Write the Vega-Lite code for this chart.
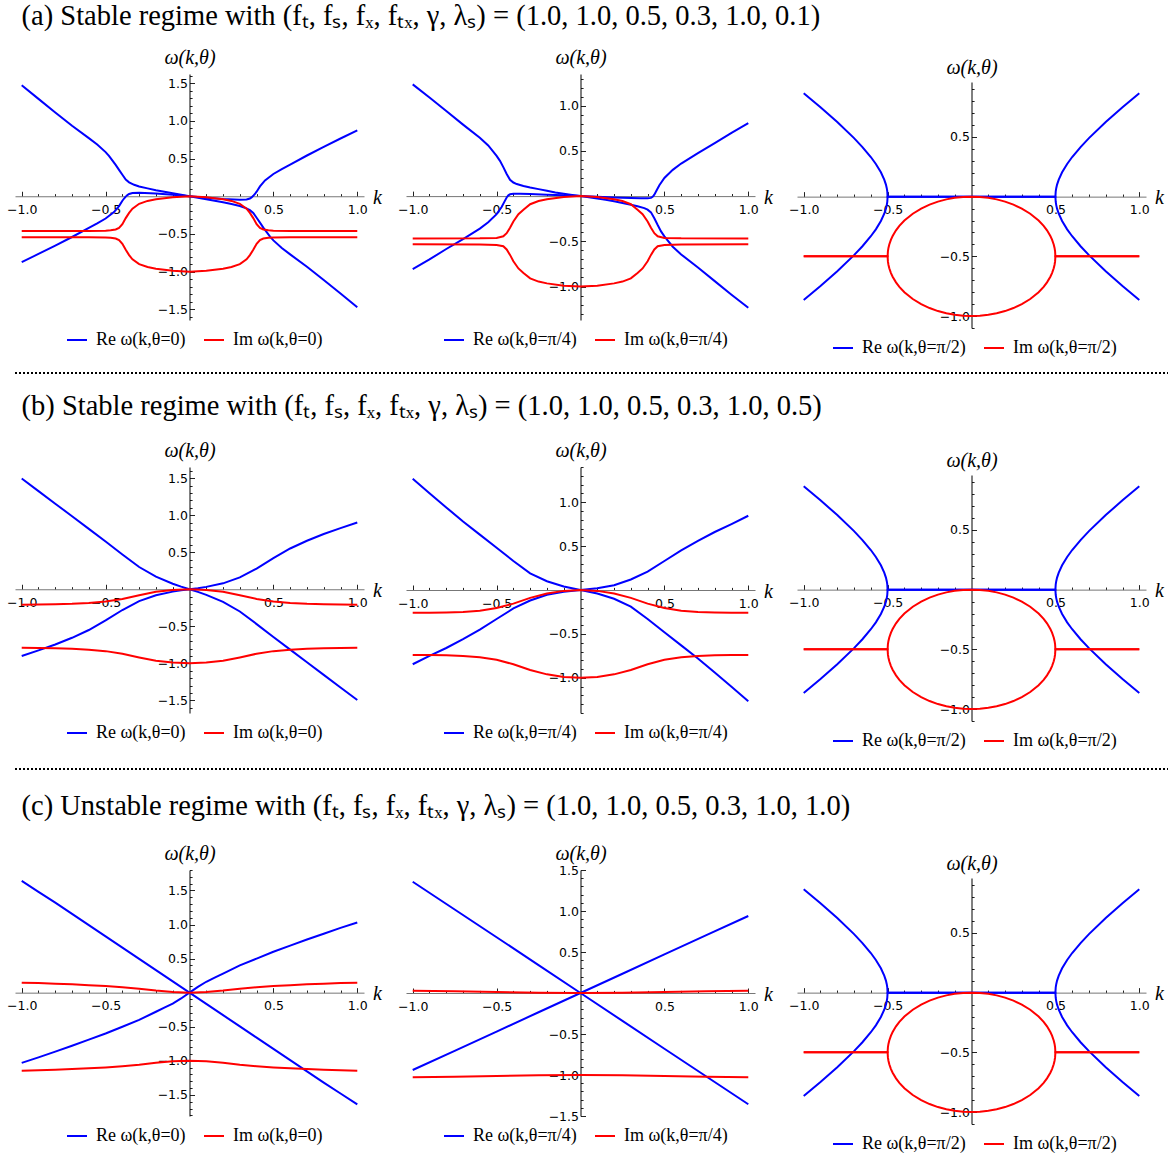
{
"$schema":"https://vega.github.io/schema/vega-lite/v6.json",
"background":"white",
"padding":{"left":6,"top":1,"right":0,"bottom":0},
"config":{
 "view":{"stroke":null},
 "axis":{"grid":false,"labelFont":"DejaVu Sans","labelFontSize":12.5,"labelColor":"#000","tickColor":"#222","tickWidth":1,"tickSize":-5,"domainWidth":1,"labelFlush":false,"labelOverlap":false,"titleFont":"Liberation Serif","titleFontStyle":"italic","titleFontWeight":"normal","titleFontSize":20,"titleColor":"#000","titleAngle":0,"titleAlign":"center","titleBaseline":"alphabetic"},
 "axisX":{"domainColor":"#777","labelPadding":12},
 "axisY":{"domainColor":"#000","labelPadding":7},
 "legend":{"direction":"horizontal","symbolType":"stroke","symbolSize":400,"symbolStrokeWidth":2,"labelFont":"Liberation Serif","labelFontSize":18,"labelOffset":8,"columnPadding":14,"labelLimit":0,"labelColor":"#000"},
 "title":{"font":"Liberation Serif","fontSize":28.5,"fontWeight":"normal","anchor":"start","color":"#000"},
 "line":{"strokeWidth":2}
},
"spacing":14,
"resolve":{"scale":{"color":"independent"},"legend":{"color":"independent"}},
"vconcat":[
 {"title":{"text":"(a) Stable regime with  (fₜ, fₛ, fₓ, fₜₓ, γ, λₛ) = (1.0, 1.0, 0.5, 0.3, 1.0, 0.1)","dx":15,"offset":17},
  "spacing":15,
  "resolve":{"scale":{"color":"independent"},"legend":{"color":"independent"}},
  "hconcat":[
   {"resolve":{"scale":{"color":"independent"},"legend":{"color":"independent"}},"vconcat":[
   {"width":349,"height":246,"data":{"name":"a1"},"mark":{"type":"line"},
    "encoding":{
     "x":{"field":"k","type":"quantitative","scale":{"domain":[-1.04,1.04],"nice":false,"zero":false},
      "axis":{"offset":-123.75,"values":[-1,-0.9,-0.8,-0.7,-0.6,-0.5,-0.4,-0.3,-0.2,-0.1,0.1,0.2,0.3,0.4,0.5,0.6,0.7,0.8,0.9,1],"labelExpr":"abs(datum.value*2-round(datum.value*2))<0.01 && abs(datum.value)>0.01 ? format(datum.value,'.1f') : ''","tickDash":{"condition":{"test":"abs(datum.value*2-round(datum.value*2))<0.01","value":[6,0]},"value":[2.6,10]},"title":"k","titleX":362,"titleY":7}},
     "y":{"field":"w","type":"quantitative","scale":{"domain":[-1.64,1.62],"nice":false,"zero":false},
      "axis":{"offset":-174.5,"values":[-1.6,-1.5,-1.4,-1.3,-1.2,-1.1,-1,-0.9,-0.8,-0.7,-0.6,-0.5,-0.4,-0.3,-0.2,-0.1,0.1,0.2,0.3,0.4,0.5,0.6,0.7,0.8,0.9,1,1.1,1.2,1.3,1.4,1.5,1.6],"labelExpr":"abs(datum.value*2-round(datum.value*2))<0.01 && abs(datum.value)>0.01 ? format(datum.value,'.1f') : ''","tickDash":{"condition":{"test":"abs(datum.value*2-round(datum.value*2))<0.01","value":[6,0]},"value":[2.6,10]},"title":"ω(k,θ)","titleX":0,"titleY":-11}},
     "color":{"field":"s","type":"nominal","scale":{"domain":["Re","Im"],"range":["#0000ff","#ff0000"]},
      "legend":{"orient":"none","legendX":51,"legendY":255,"title":null,"labelExpr":"datum.label + ' ω(k,θ=0)'"}},
     "detail":{"field":"b","type":"nominal"}}}]},
   {"resolve":{"scale":{"color":"independent"},"legend":{"color":"independent"}},"vconcat":[
   {"width":349,"height":246,"data":{"name":"a2"},"mark":{"type":"line"},
    "encoding":{
     "x":{"field":"k","type":"quantitative","scale":{"domain":[-1.04,1.04],"nice":false,"zero":false},
      "axis":{"offset":-123.9,"values":[-1,-0.9,-0.8,-0.7,-0.6,-0.5,-0.4,-0.3,-0.2,-0.1,0.1,0.2,0.3,0.4,0.5,0.6,0.7,0.8,0.9,1],"labelExpr":"abs(datum.value*2-round(datum.value*2))<0.01 && abs(datum.value)>0.01 ? format(datum.value,'.1f') : ''","tickDash":{"condition":{"test":"abs(datum.value*2-round(datum.value*2))<0.01","value":[6,0]},"value":[2.6,10]},"title":"k","titleX":362,"titleY":7}},
     "y":{"field":"w","type":"quantitative","scale":{"domain":[-1.37,1.35],"nice":false,"zero":false},
      "axis":{"offset":-174.5,"values":[-1.3,-1.2,-1.1,-1,-0.9,-0.8,-0.7,-0.6,-0.5,-0.4,-0.3,-0.2,-0.1,0.1,0.2,0.3,0.4,0.5,0.6,0.7,0.8,0.9,1,1.1,1.2,1.3],"labelExpr":"abs(datum.value*2-round(datum.value*2))<0.01 && abs(datum.value)>0.01 ? format(datum.value,'.1f') : ''","tickDash":{"condition":{"test":"abs(datum.value*2-round(datum.value*2))<0.01","value":[6,0]},"value":[2.6,10]},"title":"ω(k,θ)","titleX":0,"titleY":-11}},
     "color":{"field":"s","type":"nominal","scale":{"domain":["Re","Im"],"range":["#0000ff","#ff0000"]},
      "legend":{"orient":"none","legendX":37,"legendY":255,"title":null,"labelExpr":"datum.label + ' ω(k,θ=π/4)'"}},
     "detail":{"field":"b","type":"nominal"}}}]},
   {"resolve":{"scale":{"color":"independent"},"legend":{"color":"independent"}},"spacing":-18,"vconcat":[
   {"width":349,"height":1,"data":{"values":[]},"mark":{"type":"rule"},"encoding":{}},
   {"width":349,"height":246,"data":{"name":"p3"},"mark":{"type":"line"},
    "encoding":{
     "x":{"field":"k","type":"quantitative","scale":{"domain":[-1.04,1.04],"nice":false,"zero":false},
      "axis":{"offset":-131.36,"values":[-1,-0.9,-0.8,-0.7,-0.6,-0.5,-0.4,-0.3,-0.2,-0.1,0.1,0.2,0.3,0.4,0.5,0.6,0.7,0.8,0.9,1],"labelExpr":"abs(datum.value*2-round(datum.value*2))<0.01 && abs(datum.value)>0.01 ? format(datum.value,'.1f') : ''","tickDash":{"condition":{"test":"abs(datum.value*2-round(datum.value*2))<0.01","value":[6,0]},"value":[2.6,10]},"title":"k","titleX":362,"titleY":7}},
     "y":{"field":"w","type":"quantitative","scale":{"domain":[-1.1,0.96],"nice":false,"zero":false},
      "axis":{"offset":-174.5,"values":[-1.1,-1,-0.9,-0.8,-0.7,-0.6,-0.5,-0.4,-0.3,-0.2,-0.1,0.1,0.2,0.3,0.4,0.5,0.6,0.7,0.8,0.9],"labelExpr":"abs(datum.value*2-round(datum.value*2))<0.01 && abs(datum.value)>0.01 ? format(datum.value,'.1f') : ''","tickDash":{"condition":{"test":"abs(datum.value*2-round(datum.value*2))<0.01","value":[6,0]},"value":[2.6,10]},"title":"ω(k,θ)","titleX":0,"titleY":-9}},
     "color":{"field":"s","type":"nominal","scale":{"domain":["Re","Im"],"range":["#0000ff","#ff0000"]},
      "legend":{"orient":"none","legendX":35,"legendY":255,"title":null,"labelExpr":"datum.label + ' ω(k,θ=π/2)'"}},
     "detail":{"field":"b","type":"nominal"}}}]}
  ]},
 {"width":1162,"height":6,"data":{"values":[{"y":0.667}]},"mark":{"type":"rule","color":"#000","strokeWidth":2,"strokeDash":[2,2]},
  "encoding":{"y":{"field":"y","type":"quantitative","axis":null,"scale":{"domain":[0,1],"nice":false,"zero":false}}}},
 {"title":{"text":"(b) Stable regime with  (fₜ, fₛ, fₓ, fₜₓ, γ, λₛ) = (1.0, 1.0, 0.5, 0.3, 1.0, 0.5)","dx":15,"offset":20},
  "spacing":15,
  "resolve":{"scale":{"color":"independent"},"legend":{"color":"independent"}},
  "hconcat":[
   {"resolve":{"scale":{"color":"independent"},"legend":{"color":"independent"}},"vconcat":[
   {"width":349,"height":246,"data":{"name":"b1"},"mark":{"type":"line"},
    "encoding":{
     "x":{"field":"k","type":"quantitative","scale":{"domain":[-1.04,1.04],"nice":false,"zero":false},
      "axis":{"offset":-123.74,"values":[-1,-0.9,-0.8,-0.7,-0.6,-0.5,-0.4,-0.3,-0.2,-0.1,0.1,0.2,0.3,0.4,0.5,0.6,0.7,0.8,0.9,1],"labelExpr":"abs(datum.value*2-round(datum.value*2))<0.01 && abs(datum.value)>0.01 ? format(datum.value,'.1f') : ''","tickDash":{"condition":{"test":"abs(datum.value*2-round(datum.value*2))<0.01","value":[6,0]},"value":[2.6,10]},"title":"k","titleX":362,"titleY":7}},
     "y":{"field":"w","type":"quantitative","scale":{"domain":[-1.67,1.65],"nice":false,"zero":false},
      "axis":{"offset":-174.5,"values":[-1.6,-1.5,-1.4,-1.3,-1.2,-1.1,-1,-0.9,-0.8,-0.7,-0.6,-0.5,-0.4,-0.3,-0.2,-0.1,0.1,0.2,0.3,0.4,0.5,0.6,0.7,0.8,0.9,1,1.1,1.2,1.3,1.4,1.5,1.6],"labelExpr":"abs(datum.value*2-round(datum.value*2))<0.01 && abs(datum.value)>0.01 ? format(datum.value,'.1f') : ''","tickDash":{"condition":{"test":"abs(datum.value*2-round(datum.value*2))<0.01","value":[6,0]},"value":[2.6,10]},"title":"ω(k,θ)","titleX":0,"titleY":-11}},
     "color":{"field":"s","type":"nominal","scale":{"domain":["Re","Im"],"range":["#0000ff","#ff0000"]},
      "legend":{"orient":"none","legendX":51,"legendY":255,"title":null,"labelExpr":"datum.label + ' ω(k,θ=0)'"}},
     "detail":{"field":"b","type":"nominal"}}}]},
   {"resolve":{"scale":{"color":"independent"},"legend":{"color":"independent"}},"vconcat":[
   {"width":349,"height":246,"data":{"name":"b2"},"mark":{"type":"line"},
    "encoding":{
     "x":{"field":"k","type":"quantitative","scale":{"domain":[-1.04,1.04],"nice":false,"zero":false},
      "axis":{"offset":-123,"values":[-1,-0.9,-0.8,-0.7,-0.6,-0.5,-0.4,-0.3,-0.2,-0.1,0.1,0.2,0.3,0.4,0.5,0.6,0.7,0.8,0.9,1],"labelExpr":"abs(datum.value*2-round(datum.value*2))<0.01 && abs(datum.value)>0.01 ? format(datum.value,'.1f') : ''","tickDash":{"condition":{"test":"abs(datum.value*2-round(datum.value*2))<0.01","value":[6,0]},"value":[2.6,10]},"title":"k","titleX":362,"titleY":7}},
     "y":{"field":"w","type":"quantitative","scale":{"domain":[-1.4,1.4],"nice":false,"zero":false},
      "axis":{"offset":-174.5,"values":[-1.4,-1.3,-1.2,-1.1,-1,-0.9,-0.8,-0.7,-0.6,-0.5,-0.4,-0.3,-0.2,-0.1,0.1,0.2,0.3,0.4,0.5,0.6,0.7,0.8,0.9,1,1.1,1.2,1.3,1.4],"labelExpr":"abs(datum.value*2-round(datum.value*2))<0.01 && abs(datum.value)>0.01 ? format(datum.value,'.1f') : ''","tickDash":{"condition":{"test":"abs(datum.value*2-round(datum.value*2))<0.01","value":[6,0]},"value":[2.6,10]},"title":"ω(k,θ)","titleX":0,"titleY":-11}},
     "color":{"field":"s","type":"nominal","scale":{"domain":["Re","Im"],"range":["#0000ff","#ff0000"]},
      "legend":{"orient":"none","legendX":37,"legendY":255,"title":null,"labelExpr":"datum.label + ' ω(k,θ=π/4)'"}},
     "detail":{"field":"b","type":"nominal"}}}]},
   {"resolve":{"scale":{"color":"independent"},"legend":{"color":"independent"}},"spacing":-18,"vconcat":[
   {"width":349,"height":1,"data":{"values":[]},"mark":{"type":"rule"},"encoding":{}},
   {"width":349,"height":246,"data":{"name":"p3"},"mark":{"type":"line"},
    "encoding":{
     "x":{"field":"k","type":"quantitative","scale":{"domain":[-1.04,1.04],"nice":false,"zero":false},
      "axis":{"offset":-131.36,"values":[-1,-0.9,-0.8,-0.7,-0.6,-0.5,-0.4,-0.3,-0.2,-0.1,0.1,0.2,0.3,0.4,0.5,0.6,0.7,0.8,0.9,1],"labelExpr":"abs(datum.value*2-round(datum.value*2))<0.01 && abs(datum.value)>0.01 ? format(datum.value,'.1f') : ''","tickDash":{"condition":{"test":"abs(datum.value*2-round(datum.value*2))<0.01","value":[6,0]},"value":[2.6,10]},"title":"k","titleX":362,"titleY":7}},
     "y":{"field":"w","type":"quantitative","scale":{"domain":[-1.1,0.96],"nice":false,"zero":false},
      "axis":{"offset":-174.5,"values":[-1.1,-1,-0.9,-0.8,-0.7,-0.6,-0.5,-0.4,-0.3,-0.2,-0.1,0.1,0.2,0.3,0.4,0.5,0.6,0.7,0.8,0.9],"labelExpr":"abs(datum.value*2-round(datum.value*2))<0.01 && abs(datum.value)>0.01 ? format(datum.value,'.1f') : ''","tickDash":{"condition":{"test":"abs(datum.value*2-round(datum.value*2))<0.01","value":[6,0]},"value":[2.6,10]},"title":"ω(k,θ)","titleX":0,"titleY":-9}},
     "color":{"field":"s","type":"nominal","scale":{"domain":["Re","Im"],"range":["#0000ff","#ff0000"]},
      "legend":{"orient":"none","legendX":35,"legendY":255,"title":null,"labelExpr":"datum.label + ' ω(k,θ=π/2)'"}},
     "detail":{"field":"b","type":"nominal"}}}]}
  ]},
 {"width":1162,"height":13,"data":{"values":[{"y":0.615}]},"mark":{"type":"rule","color":"#000","strokeWidth":2,"strokeDash":[2,2]},
  "encoding":{"y":{"field":"y","type":"quantitative","axis":null,"scale":{"domain":[0,1],"nice":false,"zero":false}}}},
 {"title":{"text":"(c) Unstable regime with  (fₜ, fₛ, fₓ, fₜₓ, γ, λₛ) = (1.0, 1.0, 0.5, 0.3, 1.0, 1.0)","dx":15,"offset":23},
  "spacing":15,
  "resolve":{"scale":{"color":"independent"},"legend":{"color":"independent"}},
  "hconcat":[
   {"resolve":{"scale":{"color":"independent"},"legend":{"color":"independent"}},"vconcat":[
   {"width":349,"height":246,"data":{"name":"c1"},"mark":{"type":"line"},
    "encoding":{
     "x":{"field":"k","type":"quantitative","scale":{"domain":[-1.04,1.04],"nice":false,"zero":false},
      "axis":{"offset":-123.34,"values":[-1,-0.9,-0.8,-0.7,-0.6,-0.5,-0.4,-0.3,-0.2,-0.1,0.1,0.2,0.3,0.4,0.5,0.6,0.7,0.8,0.9,1],"labelExpr":"abs(datum.value*2-round(datum.value*2))<0.01 && abs(datum.value)>0.01 ? format(datum.value,'.1f') : ''","tickDash":{"condition":{"test":"abs(datum.value*2-round(datum.value*2))<0.01","value":[6,0]},"value":[2.6,10]},"title":"k","titleX":362,"titleY":7}},
     "y":{"field":"w","type":"quantitative","scale":{"domain":[-1.81,1.8],"nice":false,"zero":false},
      "axis":{"offset":-174.5,"values":[-1.8,-1.7,-1.6,-1.5,-1.4,-1.3,-1.2,-1.1,-1,-0.9,-0.8,-0.7,-0.6,-0.5,-0.4,-0.3,-0.2,-0.1,0.1,0.2,0.3,0.4,0.5,0.6,0.7,0.8,0.9,1,1.1,1.2,1.3,1.4,1.5,1.6,1.7,1.8],"labelExpr":"abs(datum.value*2-round(datum.value*2))<0.01 && abs(datum.value)>0.01 ? format(datum.value,'.1f') : ''","tickDash":{"condition":{"test":"abs(datum.value*2-round(datum.value*2))<0.01","value":[6,0]},"value":[2.6,10]},"title":"ω(k,θ)","titleX":0,"titleY":-11}},
     "color":{"field":"s","type":"nominal","scale":{"domain":["Re","Im"],"range":["#0000ff","#ff0000"]},
      "legend":{"orient":"none","legendX":51,"legendY":255,"title":null,"labelExpr":"datum.label + ' ω(k,θ=0)'"}},
     "detail":{"field":"b","type":"nominal"}}}]},
   {"resolve":{"scale":{"color":"independent"},"legend":{"color":"independent"}},"vconcat":[
   {"width":349,"height":246,"data":{"name":"c2"},"mark":{"type":"line"},
    "encoding":{
     "x":{"field":"k","type":"quantitative","scale":{"domain":[-1.04,1.04],"nice":false,"zero":false},
      "axis":{"offset":-123,"values":[-1,-0.9,-0.8,-0.7,-0.6,-0.5,-0.4,-0.3,-0.2,-0.1,0.1,0.2,0.3,0.4,0.5,0.6,0.7,0.8,0.9,1],"labelExpr":"abs(datum.value*2-round(datum.value*2))<0.01 && abs(datum.value)>0.01 ? format(datum.value,'.1f') : ''","tickDash":{"condition":{"test":"abs(datum.value*2-round(datum.value*2))<0.01","value":[6,0]},"value":[2.6,10]},"title":"k","titleX":362,"titleY":7}},
     "y":{"field":"w","type":"quantitative","scale":{"domain":[-1.5,1.5],"nice":false,"zero":false},
      "axis":{"offset":-174.5,"values":[-1.5,-1.4,-1.3,-1.2,-1.1,-1,-0.9,-0.8,-0.7,-0.6,-0.5,-0.4,-0.3,-0.2,-0.1,0.1,0.2,0.3,0.4,0.5,0.6,0.7,0.8,0.9,1,1.1,1.2,1.3,1.4,1.5],"labelExpr":"abs(datum.value*2-round(datum.value*2))<0.01 && abs(datum.value)>0.01 ? format(datum.value,'.1f') : ''","tickDash":{"condition":{"test":"abs(datum.value*2-round(datum.value*2))<0.01","value":[6,0]},"value":[2.6,10]},"title":"ω(k,θ)","titleX":0,"titleY":-11}},
     "color":{"field":"s","type":"nominal","scale":{"domain":["Re","Im"],"range":["#0000ff","#ff0000"]},
      "legend":{"orient":"none","legendX":37,"legendY":255,"title":null,"labelExpr":"datum.label + ' ω(k,θ=π/4)'"}},
     "detail":{"field":"b","type":"nominal"}}}]},
   {"resolve":{"scale":{"color":"independent"},"legend":{"color":"independent"}},"spacing":-18,"vconcat":[
   {"width":349,"height":1,"data":{"values":[]},"mark":{"type":"rule"},"encoding":{}},
   {"width":349,"height":246,"data":{"name":"p3"},"mark":{"type":"line"},
    "encoding":{
     "x":{"field":"k","type":"quantitative","scale":{"domain":[-1.04,1.04],"nice":false,"zero":false},
      "axis":{"offset":-131.36,"values":[-1,-0.9,-0.8,-0.7,-0.6,-0.5,-0.4,-0.3,-0.2,-0.1,0.1,0.2,0.3,0.4,0.5,0.6,0.7,0.8,0.9,1],"labelExpr":"abs(datum.value*2-round(datum.value*2))<0.01 && abs(datum.value)>0.01 ? format(datum.value,'.1f') : ''","tickDash":{"condition":{"test":"abs(datum.value*2-round(datum.value*2))<0.01","value":[6,0]},"value":[2.6,10]},"title":"k","titleX":362,"titleY":7}},
     "y":{"field":"w","type":"quantitative","scale":{"domain":[-1.1,0.96],"nice":false,"zero":false},
      "axis":{"offset":-174.5,"values":[-1.1,-1,-0.9,-0.8,-0.7,-0.6,-0.5,-0.4,-0.3,-0.2,-0.1,0.1,0.2,0.3,0.4,0.5,0.6,0.7,0.8,0.9],"labelExpr":"abs(datum.value*2-round(datum.value*2))<0.01 && abs(datum.value)>0.01 ? format(datum.value,'.1f') : ''","tickDash":{"condition":{"test":"abs(datum.value*2-round(datum.value*2))<0.01","value":[6,0]},"value":[2.6,10]},"title":"ω(k,θ)","titleX":0,"titleY":-9}},
     "color":{"field":"s","type":"nominal","scale":{"domain":["Re","Im"],"range":["#0000ff","#ff0000"]},
      "legend":{"orient":"none","legendX":35,"legendY":255,"title":null,"labelExpr":"datum.label + ' ω(k,θ=π/2)'"}},
     "detail":{"field":"b","type":"nominal"}}}]}
  ]}
],
"datasets":{
 "a1":[
  {"k":-1,"w":1.47,"s":"Re","b":1},{"k":-0.9,"w":1.29,"s":"Re","b":1},{"k":-0.8,"w":1.11,"s":"Re","b":1},{"k":-0.7,"w":0.935,"s":"Re","b":1},{"k":-0.6,"w":0.77,"s":"Re","b":1},{"k":-0.55,"w":0.685,"s":"Re","b":1},{"k":-0.5,"w":0.585,"s":"Re","b":1},{"k":-0.48,"w":0.535,"s":"Re","b":1},{"k":-0.46,"w":0.475,"s":"Re","b":1},{"k":-0.44,"w":0.415,"s":"Re","b":1},{"k":-0.42,"w":0.35,"s":"Re","b":1},{"k":-0.4,"w":0.285,"s":"Re","b":1},{"k":-0.38,"w":0.22,"s":"Re","b":1},{"k":-0.36,"w":0.185,"s":"Re","b":1},{"k":-0.33,"w":0.152,"s":"Re","b":1},{"k":-0.3,"w":0.13,"s":"Re","b":1},{"k":-0.25,"w":0.104,"s":"Re","b":1},{"k":-0.2,"w":0.08,"s":"Re","b":1},{"k":-0.15,"w":0.059,"s":"Re","b":1},{"k":-0.1,"w":0.04,"s":"Re","b":1},{"k":-0.05,"w":0.02,"s":"Re","b":1},{"k":0,"w":0,"s":"Re","b":1},{"k":0.05,"w":-0.02,"s":"Re","b":1},{"k":0.1,"w":-0.04,"s":"Re","b":1},{"k":0.15,"w":-0.059,"s":"Re","b":1},{"k":0.2,"w":-0.08,"s":"Re","b":1},{"k":0.25,"w":-0.104,"s":"Re","b":1},{"k":0.3,"w":-0.13,"s":"Re","b":1},{"k":0.33,"w":-0.152,"s":"Re","b":1},{"k":0.36,"w":-0.185,"s":"Re","b":1},{"k":0.38,"w":-0.22,"s":"Re","b":1},{"k":0.4,"w":-0.285,"s":"Re","b":1},{"k":0.42,"w":-0.35,"s":"Re","b":1},{"k":0.44,"w":-0.415,"s":"Re","b":1},{"k":0.46,"w":-0.475,"s":"Re","b":1},{"k":0.48,"w":-0.535,"s":"Re","b":1},{"k":0.5,"w":-0.585,"s":"Re","b":1},{"k":0.55,"w":-0.685,"s":"Re","b":1},{"k":0.6,"w":-0.77,"s":"Re","b":1},{"k":0.7,"w":-0.935,"s":"Re","b":1},{"k":0.8,"w":-1.11,"s":"Re","b":1},{"k":0.9,"w":-1.29,"s":"Re","b":1},{"k":1,"w":-1.47,"s":"Re","b":1},
  {"k":-1,"w":-0.874,"s":"Re","b":2},{"k":-0.9,"w":-0.765,"s":"Re","b":2},{"k":-0.8,"w":-0.655,"s":"Re","b":2},{"k":-0.7,"w":-0.54,"s":"Re","b":2},{"k":-0.6,"w":-0.42,"s":"Re","b":2},{"k":-0.55,"w":-0.36,"s":"Re","b":2},{"k":-0.5,"w":-0.295,"s":"Re","b":2},{"k":-0.45,"w":-0.21,"s":"Re","b":2},{"k":-0.42,"w":-0.13,"s":"Re","b":2},{"k":-0.4,"w":-0.06,"s":"Re","b":2},{"k":-0.39,"w":-0.03,"s":"Re","b":2},{"k":-0.38,"w":-0.005,"s":"Re","b":2},{"k":-0.37,"w":0.015,"s":"Re","b":2},{"k":-0.36,"w":0.03,"s":"Re","b":2},{"k":-0.34,"w":0.043,"s":"Re","b":2},{"k":-0.3,"w":0.045,"s":"Re","b":2},{"k":-0.2,"w":0.035,"s":"Re","b":2},{"k":-0.1,"w":0.02,"s":"Re","b":2},{"k":0,"w":0,"s":"Re","b":2},{"k":0.1,"w":-0.02,"s":"Re","b":2},{"k":0.2,"w":-0.035,"s":"Re","b":2},{"k":0.3,"w":-0.045,"s":"Re","b":2},{"k":0.34,"w":-0.043,"s":"Re","b":2},{"k":0.36,"w":-0.03,"s":"Re","b":2},{"k":0.37,"w":-0.015,"s":"Re","b":2},{"k":0.38,"w":0.005,"s":"Re","b":2},{"k":0.39,"w":0.03,"s":"Re","b":2},{"k":0.4,"w":0.06,"s":"Re","b":2},{"k":0.42,"w":0.13,"s":"Re","b":2},{"k":0.45,"w":0.21,"s":"Re","b":2},{"k":0.5,"w":0.295,"s":"Re","b":2},{"k":0.55,"w":0.36,"s":"Re","b":2},{"k":0.6,"w":0.42,"s":"Re","b":2},{"k":0.7,"w":0.54,"s":"Re","b":2},{"k":0.8,"w":0.655,"s":"Re","b":2},{"k":0.9,"w":0.765,"s":"Re","b":2},{"k":1,"w":0.874,"s":"Re","b":2},
  {"k":-1,"w":-0.462,"s":"Im","b":3},{"k":-0.8,"w":-0.461,"s":"Im","b":3},{"k":-0.6,"w":-0.46,"s":"Im","b":3},{"k":-0.5,"w":-0.456,"s":"Im","b":3},{"k":-0.47,"w":-0.452,"s":"Im","b":3},{"k":-0.44,"w":-0.44,"s":"Im","b":3},{"k":-0.42,"w":-0.42,"s":"Im","b":3},{"k":-0.4,"w":-0.37,"s":"Im","b":3},{"k":-0.38,"w":-0.29,"s":"Im","b":3},{"k":-0.36,"w":-0.22,"s":"Im","b":3},{"k":-0.34,"w":-0.165,"s":"Im","b":3},{"k":-0.3,"w":-0.1,"s":"Im","b":3},{"k":-0.25,"w":-0.062,"s":"Im","b":3},{"k":-0.2,"w":-0.04,"s":"Im","b":3},{"k":-0.1,"w":-0.012,"s":"Im","b":3},{"k":0,"w":0,"s":"Im","b":3},{"k":0.1,"w":-0.012,"s":"Im","b":3},{"k":0.2,"w":-0.04,"s":"Im","b":3},{"k":0.25,"w":-0.062,"s":"Im","b":3},{"k":0.3,"w":-0.1,"s":"Im","b":3},{"k":0.34,"w":-0.165,"s":"Im","b":3},{"k":0.36,"w":-0.22,"s":"Im","b":3},{"k":0.38,"w":-0.29,"s":"Im","b":3},{"k":0.4,"w":-0.37,"s":"Im","b":3},{"k":0.42,"w":-0.42,"s":"Im","b":3},{"k":0.44,"w":-0.44,"s":"Im","b":3},{"k":0.47,"w":-0.452,"s":"Im","b":3},{"k":0.5,"w":-0.456,"s":"Im","b":3},{"k":0.6,"w":-0.46,"s":"Im","b":3},{"k":0.8,"w":-0.461,"s":"Im","b":3},{"k":1,"w":-0.462,"s":"Im","b":3},
  {"k":-1,"w":-0.545,"s":"Im","b":4},{"k":-0.6,"w":-0.545,"s":"Im","b":4},{"k":-0.5,"w":-0.546,"s":"Im","b":4},{"k":-0.47,"w":-0.55,"s":"Im","b":4},{"k":-0.44,"w":-0.56,"s":"Im","b":4},{"k":-0.42,"w":-0.58,"s":"Im","b":4},{"k":-0.4,"w":-0.63,"s":"Im","b":4},{"k":-0.38,"w":-0.71,"s":"Im","b":4},{"k":-0.36,"w":-0.78,"s":"Im","b":4},{"k":-0.34,"w":-0.835,"s":"Im","b":4},{"k":-0.3,"w":-0.9,"s":"Im","b":4},{"k":-0.25,"w":-0.938,"s":"Im","b":4},{"k":-0.2,"w":-0.96,"s":"Im","b":4},{"k":-0.1,"w":-0.988,"s":"Im","b":4},{"k":0,"w":-1,"s":"Im","b":4},{"k":0.1,"w":-0.988,"s":"Im","b":4},{"k":0.2,"w":-0.96,"s":"Im","b":4},{"k":0.25,"w":-0.938,"s":"Im","b":4},{"k":0.3,"w":-0.9,"s":"Im","b":4},{"k":0.34,"w":-0.835,"s":"Im","b":4},{"k":0.36,"w":-0.78,"s":"Im","b":4},{"k":0.38,"w":-0.71,"s":"Im","b":4},{"k":0.4,"w":-0.63,"s":"Im","b":4},{"k":0.42,"w":-0.58,"s":"Im","b":4},{"k":0.44,"w":-0.56,"s":"Im","b":4},{"k":0.47,"w":-0.55,"s":"Im","b":4},{"k":0.5,"w":-0.546,"s":"Im","b":4},{"k":0.6,"w":-0.545,"s":"Im","b":4},{"k":1,"w":-0.545,"s":"Im","b":4}
 ],
 "a2":[
  {"k":-1,"w":1.235,"s":"Re","b":1},{"k":-0.9,"w":1.09,"s":"Re","b":1},{"k":-0.8,"w":0.94,"s":"Re","b":1},{"k":-0.7,"w":0.79,"s":"Re","b":1},{"k":-0.6,"w":0.645,"s":"Re","b":1},{"k":-0.55,"w":0.56,"s":"Re","b":1},{"k":-0.5,"w":0.445,"s":"Re","b":1},{"k":-0.48,"w":0.39,"s":"Re","b":1},{"k":-0.46,"w":0.32,"s":"Re","b":1},{"k":-0.44,"w":0.245,"s":"Re","b":1},{"k":-0.42,"w":0.18,"s":"Re","b":1},{"k":-0.4,"w":0.15,"s":"Re","b":1},{"k":-0.38,"w":0.133,"s":"Re","b":1},{"k":-0.34,"w":0.112,"s":"Re","b":1},{"k":-0.3,"w":0.095,"s":"Re","b":1},{"k":-0.25,"w":0.077,"s":"Re","b":1},{"k":-0.2,"w":0.058,"s":"Re","b":1},{"k":-0.15,"w":0.04,"s":"Re","b":1},{"k":-0.1,"w":0.027,"s":"Re","b":1},{"k":-0.05,"w":0.013,"s":"Re","b":1},{"k":0,"w":0,"s":"Re","b":1},{"k":0.05,"w":-0.013,"s":"Re","b":1},{"k":0.1,"w":-0.027,"s":"Re","b":1},{"k":0.15,"w":-0.04,"s":"Re","b":1},{"k":0.2,"w":-0.058,"s":"Re","b":1},{"k":0.25,"w":-0.077,"s":"Re","b":1},{"k":0.3,"w":-0.095,"s":"Re","b":1},{"k":0.34,"w":-0.112,"s":"Re","b":1},{"k":0.38,"w":-0.133,"s":"Re","b":1},{"k":0.4,"w":-0.15,"s":"Re","b":1},{"k":0.42,"w":-0.18,"s":"Re","b":1},{"k":0.44,"w":-0.245,"s":"Re","b":1},{"k":0.46,"w":-0.32,"s":"Re","b":1},{"k":0.48,"w":-0.39,"s":"Re","b":1},{"k":0.5,"w":-0.445,"s":"Re","b":1},{"k":0.55,"w":-0.56,"s":"Re","b":1},{"k":0.6,"w":-0.645,"s":"Re","b":1},{"k":0.7,"w":-0.79,"s":"Re","b":1},{"k":0.8,"w":-0.94,"s":"Re","b":1},{"k":0.9,"w":-1.09,"s":"Re","b":1},{"k":1,"w":-1.235,"s":"Re","b":1},
  {"k":-1,"w":-0.807,"s":"Re","b":2},{"k":-0.9,"w":-0.7,"s":"Re","b":2},{"k":-0.8,"w":-0.585,"s":"Re","b":2},{"k":-0.7,"w":-0.475,"s":"Re","b":2},{"k":-0.6,"w":-0.36,"s":"Re","b":2},{"k":-0.55,"w":-0.29,"s":"Re","b":2},{"k":-0.5,"w":-0.2,"s":"Re","b":2},{"k":-0.47,"w":-0.12,"s":"Re","b":2},{"k":-0.45,"w":-0.05,"s":"Re","b":2},{"k":-0.44,"w":-0.015,"s":"Re","b":2},{"k":-0.43,"w":0.008,"s":"Re","b":2},{"k":-0.42,"w":0.02,"s":"Re","b":2},{"k":-0.4,"w":0.025,"s":"Re","b":2},{"k":-0.36,"w":0.025,"s":"Re","b":2},{"k":-0.3,"w":0.022,"s":"Re","b":2},{"k":-0.2,"w":0.015,"s":"Re","b":2},{"k":-0.1,"w":0.008,"s":"Re","b":2},{"k":0,"w":0,"s":"Re","b":2},{"k":0.1,"w":-0.008,"s":"Re","b":2},{"k":0.2,"w":-0.015,"s":"Re","b":2},{"k":0.3,"w":-0.022,"s":"Re","b":2},{"k":0.36,"w":-0.025,"s":"Re","b":2},{"k":0.4,"w":-0.025,"s":"Re","b":2},{"k":0.42,"w":-0.02,"s":"Re","b":2},{"k":0.43,"w":-0.008,"s":"Re","b":2},{"k":0.44,"w":0.015,"s":"Re","b":2},{"k":0.45,"w":0.05,"s":"Re","b":2},{"k":0.47,"w":0.12,"s":"Re","b":2},{"k":0.5,"w":0.2,"s":"Re","b":2},{"k":0.55,"w":0.29,"s":"Re","b":2},{"k":0.6,"w":0.36,"s":"Re","b":2},{"k":0.7,"w":0.475,"s":"Re","b":2},{"k":0.8,"w":0.585,"s":"Re","b":2},{"k":0.9,"w":0.7,"s":"Re","b":2},{"k":1,"w":0.807,"s":"Re","b":2},
  {"k":-1,"w":-0.468,"s":"Im","b":3},{"k":-0.6,"w":-0.467,"s":"Im","b":3},{"k":-0.5,"w":-0.462,"s":"Im","b":3},{"k":-0.46,"w":-0.445,"s":"Im","b":3},{"k":-0.44,"w":-0.41,"s":"Im","b":3},{"k":-0.42,"w":-0.35,"s":"Im","b":3},{"k":-0.4,"w":-0.28,"s":"Im","b":3},{"k":-0.37,"w":-0.2,"s":"Im","b":3},{"k":-0.34,"w":-0.15,"s":"Im","b":3},{"k":-0.3,"w":-0.09,"s":"Im","b":3},{"k":-0.25,"w":-0.055,"s":"Im","b":3},{"k":-0.2,"w":-0.035,"s":"Im","b":3},{"k":-0.1,"w":-0.01,"s":"Im","b":3},{"k":0,"w":0,"s":"Im","b":3},{"k":0.1,"w":-0.01,"s":"Im","b":3},{"k":0.2,"w":-0.035,"s":"Im","b":3},{"k":0.25,"w":-0.055,"s":"Im","b":3},{"k":0.3,"w":-0.09,"s":"Im","b":3},{"k":0.34,"w":-0.15,"s":"Im","b":3},{"k":0.37,"w":-0.2,"s":"Im","b":3},{"k":0.4,"w":-0.28,"s":"Im","b":3},{"k":0.42,"w":-0.35,"s":"Im","b":3},{"k":0.44,"w":-0.41,"s":"Im","b":3},{"k":0.46,"w":-0.445,"s":"Im","b":3},{"k":0.5,"w":-0.462,"s":"Im","b":3},{"k":0.6,"w":-0.467,"s":"Im","b":3},{"k":1,"w":-0.468,"s":"Im","b":3},
  {"k":-1,"w":-0.533,"s":"Im","b":4},{"k":-0.6,"w":-0.535,"s":"Im","b":4},{"k":-0.5,"w":-0.54,"s":"Im","b":4},{"k":-0.46,"w":-0.555,"s":"Im","b":4},{"k":-0.44,"w":-0.59,"s":"Im","b":4},{"k":-0.42,"w":-0.65,"s":"Im","b":4},{"k":-0.4,"w":-0.72,"s":"Im","b":4},{"k":-0.37,"w":-0.8,"s":"Im","b":4},{"k":-0.34,"w":-0.85,"s":"Im","b":4},{"k":-0.3,"w":-0.91,"s":"Im","b":4},{"k":-0.25,"w":-0.945,"s":"Im","b":4},{"k":-0.2,"w":-0.965,"s":"Im","b":4},{"k":-0.1,"w":-0.99,"s":"Im","b":4},{"k":0,"w":-1,"s":"Im","b":4},{"k":0.1,"w":-0.99,"s":"Im","b":4},{"k":0.2,"w":-0.965,"s":"Im","b":4},{"k":0.25,"w":-0.945,"s":"Im","b":4},{"k":0.3,"w":-0.91,"s":"Im","b":4},{"k":0.34,"w":-0.85,"s":"Im","b":4},{"k":0.37,"w":-0.8,"s":"Im","b":4},{"k":0.4,"w":-0.72,"s":"Im","b":4},{"k":0.42,"w":-0.65,"s":"Im","b":4},{"k":0.44,"w":-0.59,"s":"Im","b":4},{"k":0.46,"w":-0.555,"s":"Im","b":4},{"k":0.5,"w":-0.54,"s":"Im","b":4},{"k":0.6,"w":-0.535,"s":"Im","b":4},{"k":1,"w":-0.533,"s":"Im","b":4}
 ],
 "b1":[
  {"k":-1,"w":1.494,"s":"Re","b":1},{"k":-0.9,"w":1.325,"s":"Re","b":1},{"k":-0.8,"w":1.155,"s":"Re","b":1},{"k":-0.7,"w":0.985,"s":"Re","b":1},{"k":-0.6,"w":0.815,"s":"Re","b":1},{"k":-0.5,"w":0.645,"s":"Re","b":1},{"k":-0.4,"w":0.47,"s":"Re","b":1},{"k":-0.3,"w":0.3,"s":"Re","b":1},{"k":-0.2,"w":0.17,"s":"Re","b":1},{"k":-0.1,"w":0.075,"s":"Re","b":1},{"k":-0.05,"w":0.035,"s":"Re","b":1},{"k":0,"w":0,"s":"Re","b":1},{"k":0.05,"w":-0.035,"s":"Re","b":1},{"k":0.1,"w":-0.075,"s":"Re","b":1},{"k":0.2,"w":-0.17,"s":"Re","b":1},{"k":0.3,"w":-0.3,"s":"Re","b":1},{"k":0.4,"w":-0.47,"s":"Re","b":1},{"k":0.5,"w":-0.645,"s":"Re","b":1},{"k":0.6,"w":-0.815,"s":"Re","b":1},{"k":0.7,"w":-0.985,"s":"Re","b":1},{"k":0.8,"w":-1.155,"s":"Re","b":1},{"k":0.9,"w":-1.325,"s":"Re","b":1},{"k":1,"w":-1.494,"s":"Re","b":1},
  {"k":-1,"w":-0.9,"s":"Re","b":2},{"k":-0.9,"w":-0.825,"s":"Re","b":2},{"k":-0.8,"w":-0.745,"s":"Re","b":2},{"k":-0.7,"w":-0.655,"s":"Re","b":2},{"k":-0.6,"w":-0.55,"s":"Re","b":2},{"k":-0.5,"w":-0.42,"s":"Re","b":2},{"k":-0.4,"w":-0.28,"s":"Re","b":2},{"k":-0.3,"w":-0.16,"s":"Re","b":2},{"k":-0.2,"w":-0.08,"s":"Re","b":2},{"k":-0.1,"w":-0.032,"s":"Re","b":2},{"k":-0.05,"w":-0.013,"s":"Re","b":2},{"k":0,"w":0,"s":"Re","b":2},{"k":0.05,"w":0.013,"s":"Re","b":2},{"k":0.1,"w":0.032,"s":"Re","b":2},{"k":0.2,"w":0.08,"s":"Re","b":2},{"k":0.3,"w":0.16,"s":"Re","b":2},{"k":0.4,"w":0.28,"s":"Re","b":2},{"k":0.5,"w":0.42,"s":"Re","b":2},{"k":0.6,"w":0.55,"s":"Re","b":2},{"k":0.7,"w":0.655,"s":"Re","b":2},{"k":0.8,"w":0.745,"s":"Re","b":2},{"k":0.9,"w":0.825,"s":"Re","b":2},{"k":1,"w":0.9,"s":"Re","b":2},
  {"k":-1,"w":-0.21,"s":"Im","b":3},{"k":-0.9,"w":-0.207,"s":"Im","b":3},{"k":-0.8,"w":-0.203,"s":"Im","b":3},{"k":-0.7,"w":-0.197,"s":"Im","b":3},{"k":-0.6,"w":-0.185,"s":"Im","b":3},{"k":-0.5,"w":-0.165,"s":"Im","b":3},{"k":-0.4,"w":-0.13,"s":"Im","b":3},{"k":-0.3,"w":-0.08,"s":"Im","b":3},{"k":-0.2,"w":-0.035,"s":"Im","b":3},{"k":-0.1,"w":-0.01,"s":"Im","b":3},{"k":0,"w":0,"s":"Im","b":3},{"k":0.1,"w":-0.01,"s":"Im","b":3},{"k":0.2,"w":-0.035,"s":"Im","b":3},{"k":0.3,"w":-0.08,"s":"Im","b":3},{"k":0.4,"w":-0.13,"s":"Im","b":3},{"k":0.5,"w":-0.165,"s":"Im","b":3},{"k":0.6,"w":-0.185,"s":"Im","b":3},{"k":0.7,"w":-0.197,"s":"Im","b":3},{"k":0.8,"w":-0.203,"s":"Im","b":3},{"k":0.9,"w":-0.207,"s":"Im","b":3},{"k":1,"w":-0.21,"s":"Im","b":3},
  {"k":-1,"w":-0.79,"s":"Im","b":4},{"k":-0.9,"w":-0.793,"s":"Im","b":4},{"k":-0.8,"w":-0.797,"s":"Im","b":4},{"k":-0.7,"w":-0.803,"s":"Im","b":4},{"k":-0.6,"w":-0.815,"s":"Im","b":4},{"k":-0.5,"w":-0.835,"s":"Im","b":4},{"k":-0.4,"w":-0.87,"s":"Im","b":4},{"k":-0.3,"w":-0.92,"s":"Im","b":4},{"k":-0.2,"w":-0.965,"s":"Im","b":4},{"k":-0.1,"w":-0.99,"s":"Im","b":4},{"k":0,"w":-1,"s":"Im","b":4},{"k":0.1,"w":-0.99,"s":"Im","b":4},{"k":0.2,"w":-0.965,"s":"Im","b":4},{"k":0.3,"w":-0.92,"s":"Im","b":4},{"k":0.4,"w":-0.87,"s":"Im","b":4},{"k":0.5,"w":-0.835,"s":"Im","b":4},{"k":0.6,"w":-0.815,"s":"Im","b":4},{"k":0.7,"w":-0.803,"s":"Im","b":4},{"k":0.8,"w":-0.797,"s":"Im","b":4},{"k":0.9,"w":-0.793,"s":"Im","b":4},{"k":1,"w":-0.79,"s":"Im","b":4}
 ],
 "b2":[
  {"k":-1,"w":1.265,"s":"Re","b":1},{"k":-0.9,"w":1.1,"s":"Re","b":1},{"k":-0.8,"w":0.94,"s":"Re","b":1},{"k":-0.7,"w":0.78,"s":"Re","b":1},{"k":-0.6,"w":0.63,"s":"Re","b":1},{"k":-0.5,"w":0.48,"s":"Re","b":1},{"k":-0.4,"w":0.33,"s":"Re","b":1},{"k":-0.3,"w":0.19,"s":"Re","b":1},{"k":-0.2,"w":0.1,"s":"Re","b":1},{"k":-0.1,"w":0.04,"s":"Re","b":1},{"k":0,"w":0,"s":"Re","b":1},{"k":0.1,"w":-0.04,"s":"Re","b":1},{"k":0.2,"w":-0.1,"s":"Re","b":1},{"k":0.3,"w":-0.19,"s":"Re","b":1},{"k":0.4,"w":-0.33,"s":"Re","b":1},{"k":0.5,"w":-0.48,"s":"Re","b":1},{"k":0.6,"w":-0.63,"s":"Re","b":1},{"k":0.7,"w":-0.78,"s":"Re","b":1},{"k":0.8,"w":-0.94,"s":"Re","b":1},{"k":0.9,"w":-1.1,"s":"Re","b":1},{"k":1,"w":-1.265,"s":"Re","b":1},
  {"k":-1,"w":-0.845,"s":"Re","b":2},{"k":-0.9,"w":-0.75,"s":"Re","b":2},{"k":-0.8,"w":-0.66,"s":"Re","b":2},{"k":-0.7,"w":-0.56,"s":"Re","b":2},{"k":-0.6,"w":-0.45,"s":"Re","b":2},{"k":-0.5,"w":-0.33,"s":"Re","b":2},{"k":-0.4,"w":-0.21,"s":"Re","b":2},{"k":-0.3,"w":-0.12,"s":"Re","b":2},{"k":-0.2,"w":-0.055,"s":"Re","b":2},{"k":-0.1,"w":-0.02,"s":"Re","b":2},{"k":0,"w":0,"s":"Re","b":2},{"k":0.1,"w":0.02,"s":"Re","b":2},{"k":0.2,"w":0.055,"s":"Re","b":2},{"k":0.3,"w":0.12,"s":"Re","b":2},{"k":0.4,"w":0.21,"s":"Re","b":2},{"k":0.5,"w":0.33,"s":"Re","b":2},{"k":0.6,"w":0.45,"s":"Re","b":2},{"k":0.7,"w":0.56,"s":"Re","b":2},{"k":0.8,"w":0.66,"s":"Re","b":2},{"k":0.9,"w":0.75,"s":"Re","b":2},{"k":1,"w":0.845,"s":"Re","b":2},
  {"k":-1,"w":-0.26,"s":"Im","b":3},{"k":-0.9,"w":-0.259,"s":"Im","b":3},{"k":-0.8,"w":-0.256,"s":"Im","b":3},{"k":-0.7,"w":-0.25,"s":"Im","b":3},{"k":-0.6,"w":-0.235,"s":"Im","b":3},{"k":-0.5,"w":-0.205,"s":"Im","b":3},{"k":-0.4,"w":-0.155,"s":"Im","b":3},{"k":-0.3,"w":-0.09,"s":"Im","b":3},{"k":-0.2,"w":-0.04,"s":"Im","b":3},{"k":-0.1,"w":-0.01,"s":"Im","b":3},{"k":0,"w":0,"s":"Im","b":3},{"k":0.1,"w":-0.01,"s":"Im","b":3},{"k":0.2,"w":-0.04,"s":"Im","b":3},{"k":0.3,"w":-0.09,"s":"Im","b":3},{"k":0.4,"w":-0.155,"s":"Im","b":3},{"k":0.5,"w":-0.205,"s":"Im","b":3},{"k":0.6,"w":-0.235,"s":"Im","b":3},{"k":0.7,"w":-0.25,"s":"Im","b":3},{"k":0.8,"w":-0.256,"s":"Im","b":3},{"k":0.9,"w":-0.259,"s":"Im","b":3},{"k":1,"w":-0.26,"s":"Im","b":3},
  {"k":-1,"w":-0.74,"s":"Im","b":4},{"k":-0.9,"w":-0.741,"s":"Im","b":4},{"k":-0.8,"w":-0.744,"s":"Im","b":4},{"k":-0.7,"w":-0.75,"s":"Im","b":4},{"k":-0.6,"w":-0.765,"s":"Im","b":4},{"k":-0.5,"w":-0.795,"s":"Im","b":4},{"k":-0.4,"w":-0.845,"s":"Im","b":4},{"k":-0.3,"w":-0.91,"s":"Im","b":4},{"k":-0.2,"w":-0.96,"s":"Im","b":4},{"k":-0.1,"w":-0.99,"s":"Im","b":4},{"k":0,"w":-1,"s":"Im","b":4},{"k":0.1,"w":-0.99,"s":"Im","b":4},{"k":0.2,"w":-0.96,"s":"Im","b":4},{"k":0.3,"w":-0.91,"s":"Im","b":4},{"k":0.4,"w":-0.845,"s":"Im","b":4},{"k":0.5,"w":-0.795,"s":"Im","b":4},{"k":0.6,"w":-0.765,"s":"Im","b":4},{"k":0.7,"w":-0.75,"s":"Im","b":4},{"k":0.8,"w":-0.744,"s":"Im","b":4},{"k":0.9,"w":-0.741,"s":"Im","b":4},{"k":1,"w":-0.74,"s":"Im","b":4}
 ],
 "c1":[
  {"k":-1,"w":1.64,"s":"Re","b":1},{"k":-0.9,"w":1.48,"s":"Re","b":1},{"k":-0.8,"w":1.32,"s":"Re","b":1},{"k":-0.7,"w":1.155,"s":"Re","b":1},{"k":-0.6,"w":0.99,"s":"Re","b":1},{"k":-0.5,"w":0.825,"s":"Re","b":1},{"k":-0.4,"w":0.66,"s":"Re","b":1},{"k":-0.3,"w":0.495,"s":"Re","b":1},{"k":-0.2,"w":0.33,"s":"Re","b":1},{"k":-0.1,"w":0.165,"s":"Re","b":1},{"k":0,"w":0,"s":"Re","b":1},{"k":0.1,"w":-0.165,"s":"Re","b":1},{"k":0.2,"w":-0.33,"s":"Re","b":1},{"k":0.3,"w":-0.495,"s":"Re","b":1},{"k":0.4,"w":-0.66,"s":"Re","b":1},{"k":0.5,"w":-0.825,"s":"Re","b":1},{"k":0.6,"w":-0.99,"s":"Re","b":1},{"k":0.7,"w":-1.155,"s":"Re","b":1},{"k":0.8,"w":-1.32,"s":"Re","b":1},{"k":0.9,"w":-1.48,"s":"Re","b":1},{"k":1,"w":-1.64,"s":"Re","b":1},
  {"k":-1,"w":-1.03,"s":"Re","b":2},{"k":-0.9,"w":-0.95,"s":"Re","b":2},{"k":-0.8,"w":-0.865,"s":"Re","b":2},{"k":-0.7,"w":-0.78,"s":"Re","b":2},{"k":-0.6,"w":-0.69,"s":"Re","b":2},{"k":-0.5,"w":-0.6,"s":"Re","b":2},{"k":-0.4,"w":-0.5,"s":"Re","b":2},{"k":-0.3,"w":-0.4,"s":"Re","b":2},{"k":-0.2,"w":-0.28,"s":"Re","b":2},{"k":-0.15,"w":-0.22,"s":"Re","b":2},{"k":-0.1,"w":-0.16,"s":"Re","b":2},{"k":-0.05,"w":-0.085,"s":"Re","b":2},{"k":0,"w":0,"s":"Re","b":2},{"k":0.05,"w":0.085,"s":"Re","b":2},{"k":0.1,"w":0.16,"s":"Re","b":2},{"k":0.15,"w":0.22,"s":"Re","b":2},{"k":0.2,"w":0.28,"s":"Re","b":2},{"k":0.3,"w":0.4,"s":"Re","b":2},{"k":0.4,"w":0.5,"s":"Re","b":2},{"k":0.5,"w":0.6,"s":"Re","b":2},{"k":0.6,"w":0.69,"s":"Re","b":2},{"k":0.7,"w":0.78,"s":"Re","b":2},{"k":0.8,"w":0.865,"s":"Re","b":2},{"k":0.9,"w":0.95,"s":"Re","b":2},{"k":1,"w":1.03,"s":"Re","b":2},
  {"k":-1,"w":0.147,"s":"Im","b":3},{"k":-0.9,"w":0.14,"s":"Im","b":3},{"k":-0.8,"w":0.132,"s":"Im","b":3},{"k":-0.7,"w":0.122,"s":"Im","b":3},{"k":-0.6,"w":0.11,"s":"Im","b":3},{"k":-0.5,"w":0.097,"s":"Im","b":3},{"k":-0.4,"w":0.08,"s":"Im","b":3},{"k":-0.3,"w":0.058,"s":"Im","b":3},{"k":-0.2,"w":0.03,"s":"Im","b":3},{"k":-0.1,"w":0.008,"s":"Im","b":3},{"k":0,"w":0,"s":"Im","b":3},{"k":0.1,"w":0.008,"s":"Im","b":3},{"k":0.2,"w":0.03,"s":"Im","b":3},{"k":0.3,"w":0.058,"s":"Im","b":3},{"k":0.4,"w":0.08,"s":"Im","b":3},{"k":0.5,"w":0.097,"s":"Im","b":3},{"k":0.6,"w":0.11,"s":"Im","b":3},{"k":0.7,"w":0.122,"s":"Im","b":3},{"k":0.8,"w":0.132,"s":"Im","b":3},{"k":0.9,"w":0.14,"s":"Im","b":3},{"k":1,"w":0.147,"s":"Im","b":3},
  {"k":-1,"w":-1.147,"s":"Im","b":4},{"k":-0.9,"w":-1.14,"s":"Im","b":4},{"k":-0.8,"w":-1.132,"s":"Im","b":4},{"k":-0.7,"w":-1.122,"s":"Im","b":4},{"k":-0.6,"w":-1.11,"s":"Im","b":4},{"k":-0.5,"w":-1.097,"s":"Im","b":4},{"k":-0.4,"w":-1.08,"s":"Im","b":4},{"k":-0.3,"w":-1.058,"s":"Im","b":4},{"k":-0.2,"w":-1.03,"s":"Im","b":4},{"k":-0.1,"w":-1.008,"s":"Im","b":4},{"k":0,"w":-1,"s":"Im","b":4},{"k":0.1,"w":-1.008,"s":"Im","b":4},{"k":0.2,"w":-1.03,"s":"Im","b":4},{"k":0.3,"w":-1.058,"s":"Im","b":4},{"k":0.4,"w":-1.08,"s":"Im","b":4},{"k":0.5,"w":-1.097,"s":"Im","b":4},{"k":0.6,"w":-1.11,"s":"Im","b":4},{"k":0.7,"w":-1.122,"s":"Im","b":4},{"k":0.8,"w":-1.132,"s":"Im","b":4},{"k":0.9,"w":-1.14,"s":"Im","b":4},{"k":1,"w":-1.147,"s":"Im","b":4}
 ],
 "c2":[
  {"k":-1,"w":1.357,"s":"Re","b":1},{"k":-0.75,"w":1.018,"s":"Re","b":1},{"k":-0.5,"w":0.68,"s":"Re","b":1},{"k":-0.25,"w":0.34,"s":"Re","b":1},{"k":0,"w":0,"s":"Re","b":1},{"k":0.25,"w":-0.34,"s":"Re","b":1},{"k":0.5,"w":-0.68,"s":"Re","b":1},{"k":0.75,"w":-1.018,"s":"Re","b":1},{"k":1,"w":-1.357,"s":"Re","b":1},
  {"k":-1,"w":-0.939,"s":"Re","b":2},{"k":-0.75,"w":-0.705,"s":"Re","b":2},{"k":-0.5,"w":-0.47,"s":"Re","b":2},{"k":-0.25,"w":-0.235,"s":"Re","b":2},{"k":0,"w":0,"s":"Re","b":2},{"k":0.25,"w":0.235,"s":"Re","b":2},{"k":0.5,"w":0.47,"s":"Re","b":2},{"k":0.75,"w":0.705,"s":"Re","b":2},{"k":1,"w":0.939,"s":"Re","b":2},
  {"k":-1,"w":0.026,"s":"Im","b":3},{"k":-0.75,"w":0.02,"s":"Im","b":3},{"k":-0.5,"w":0.012,"s":"Im","b":3},{"k":-0.25,"w":0.004,"s":"Im","b":3},{"k":0,"w":0,"s":"Im","b":3},{"k":0.25,"w":0.004,"s":"Im","b":3},{"k":0.5,"w":0.012,"s":"Im","b":3},{"k":0.75,"w":0.02,"s":"Im","b":3},{"k":1,"w":0.026,"s":"Im","b":3},
  {"k":-1,"w":-1.026,"s":"Im","b":4},{"k":-0.75,"w":-1.02,"s":"Im","b":4},{"k":-0.5,"w":-1.012,"s":"Im","b":4},{"k":-0.25,"w":-1.004,"s":"Im","b":4},{"k":0,"w":-1,"s":"Im","b":4},{"k":0.25,"w":-1.004,"s":"Im","b":4},{"k":0.5,"w":-1.012,"s":"Im","b":4},{"k":0.75,"w":-1.02,"s":"Im","b":4},{"k":1,"w":-1.026,"s":"Im","b":4}
 ],
 "p3":[
  {"k":-1,"w":0.866,"s":"Re","b":1},{"k":-0.9,"w":0.748,"s":"Re","b":1},{"k":-0.8,"w":0.6245,"s":"Re","b":1},{"k":-0.7,"w":0.4899,"s":"Re","b":1},{"k":-0.65,"w":0.4153,"s":"Re","b":1},{"k":-0.6,"w":0.3317,"s":"Re","b":1},{"k":-0.57,"w":0.2737,"s":"Re","b":1},{"k":-0.54,"w":0.204,"s":"Re","b":1},{"k":-0.52,"w":0.1428,"s":"Re","b":1},{"k":-0.51,"w":0.1005,"s":"Re","b":1},{"k":-0.505,"w":0.0709,"s":"Re","b":1},{"k":-0.502,"w":0.0448,"s":"Re","b":1},{"k":-0.5,"w":0,"s":"Re","b":1},{"k":0,"w":0,"s":"Re","b":1},{"k":0.5,"w":0,"s":"Re","b":1},{"k":0.502,"w":0.0448,"s":"Re","b":1},{"k":0.505,"w":0.0709,"s":"Re","b":1},{"k":0.51,"w":0.1005,"s":"Re","b":1},{"k":0.52,"w":0.1428,"s":"Re","b":1},{"k":0.54,"w":0.204,"s":"Re","b":1},{"k":0.57,"w":0.2737,"s":"Re","b":1},{"k":0.6,"w":0.3317,"s":"Re","b":1},{"k":0.65,"w":0.4153,"s":"Re","b":1},{"k":0.7,"w":0.4899,"s":"Re","b":1},{"k":0.8,"w":0.6245,"s":"Re","b":1},{"k":0.9,"w":0.748,"s":"Re","b":1},{"k":1,"w":0.866,"s":"Re","b":1},
  {"k":-1,"w":-0.866,"s":"Re","b":2},{"k":-0.9,"w":-0.748,"s":"Re","b":2},{"k":-0.8,"w":-0.6245,"s":"Re","b":2},{"k":-0.7,"w":-0.4899,"s":"Re","b":2},{"k":-0.65,"w":-0.4153,"s":"Re","b":2},{"k":-0.6,"w":-0.3317,"s":"Re","b":2},{"k":-0.57,"w":-0.2737,"s":"Re","b":2},{"k":-0.54,"w":-0.204,"s":"Re","b":2},{"k":-0.52,"w":-0.1428,"s":"Re","b":2},{"k":-0.51,"w":-0.1005,"s":"Re","b":2},{"k":-0.505,"w":-0.0709,"s":"Re","b":2},{"k":-0.502,"w":-0.0448,"s":"Re","b":2},{"k":-0.5,"w":0,"s":"Re","b":2},{"k":0,"w":0,"s":"Re","b":2},{"k":0.5,"w":0,"s":"Re","b":2},{"k":0.502,"w":-0.0448,"s":"Re","b":2},{"k":0.505,"w":-0.0709,"s":"Re","b":2},{"k":0.51,"w":-0.1005,"s":"Re","b":2},{"k":0.52,"w":-0.1428,"s":"Re","b":2},{"k":0.54,"w":-0.204,"s":"Re","b":2},{"k":0.57,"w":-0.2737,"s":"Re","b":2},{"k":0.6,"w":-0.3317,"s":"Re","b":2},{"k":0.65,"w":-0.4153,"s":"Re","b":2},{"k":0.7,"w":-0.4899,"s":"Re","b":2},{"k":0.8,"w":-0.6245,"s":"Re","b":2},{"k":0.9,"w":-0.748,"s":"Re","b":2},{"k":1,"w":-0.866,"s":"Re","b":2},
  {"k":-1,"w":-0.5,"s":"Im","b":3},{"k":-0.5,"w":-0.5,"s":"Im","b":3},{"k":-0.498,"w":-0.4553,"s":"Im","b":3},{"k":-0.495,"w":-0.4295,"s":"Im","b":3},{"k":-0.49,"w":-0.4005,"s":"Im","b":3},{"k":-0.48,"w":-0.36,"s":"Im","b":3},{"k":-0.47,"w":-0.3294,"s":"Im","b":3},{"k":-0.45,"w":-0.2821,"s":"Im","b":3},{"k":-0.43,"w":-0.2449,"s":"Im","b":3},{"k":-0.4,"w":-0.2,"s":"Im","b":3},{"k":-0.35,"w":-0.1429,"s":"Im","b":3},{"k":-0.3,"w":-0.1,"s":"Im","b":3},{"k":-0.25,"w":-0.067,"s":"Im","b":3},{"k":-0.2,"w":-0.0417,"s":"Im","b":3},{"k":-0.15,"w":-0.023,"s":"Im","b":3},{"k":-0.1,"w":-0.0101,"s":"Im","b":3},{"k":-0.05,"w":-0.0025,"s":"Im","b":3},{"k":0,"w":0,"s":"Im","b":3},{"k":0.05,"w":-0.0025,"s":"Im","b":3},{"k":0.1,"w":-0.0101,"s":"Im","b":3},{"k":0.15,"w":-0.023,"s":"Im","b":3},{"k":0.2,"w":-0.0417,"s":"Im","b":3},{"k":0.25,"w":-0.067,"s":"Im","b":3},{"k":0.3,"w":-0.1,"s":"Im","b":3},{"k":0.35,"w":-0.1429,"s":"Im","b":3},{"k":0.4,"w":-0.2,"s":"Im","b":3},{"k":0.43,"w":-0.2449,"s":"Im","b":3},{"k":0.45,"w":-0.2821,"s":"Im","b":3},{"k":0.47,"w":-0.3294,"s":"Im","b":3},{"k":0.48,"w":-0.36,"s":"Im","b":3},{"k":0.49,"w":-0.4005,"s":"Im","b":3},{"k":0.495,"w":-0.4295,"s":"Im","b":3},{"k":0.498,"w":-0.4553,"s":"Im","b":3},{"k":0.5,"w":-0.5,"s":"Im","b":3},{"k":1,"w":-0.5,"s":"Im","b":3},
  {"k":-1,"w":-0.5,"s":"Im","b":4},{"k":-0.5,"w":-0.5,"s":"Im","b":4},{"k":-0.498,"w":-0.5447,"s":"Im","b":4},{"k":-0.495,"w":-0.5705,"s":"Im","b":4},{"k":-0.49,"w":-0.5995,"s":"Im","b":4},{"k":-0.48,"w":-0.64,"s":"Im","b":4},{"k":-0.47,"w":-0.6706,"s":"Im","b":4},{"k":-0.45,"w":-0.7179,"s":"Im","b":4},{"k":-0.43,"w":-0.7551,"s":"Im","b":4},{"k":-0.4,"w":-0.8,"s":"Im","b":4},{"k":-0.35,"w":-0.8571,"s":"Im","b":4},{"k":-0.3,"w":-0.9,"s":"Im","b":4},{"k":-0.25,"w":-0.933,"s":"Im","b":4},{"k":-0.2,"w":-0.9583,"s":"Im","b":4},{"k":-0.15,"w":-0.977,"s":"Im","b":4},{"k":-0.1,"w":-0.9899,"s":"Im","b":4},{"k":-0.05,"w":-0.9975,"s":"Im","b":4},{"k":0,"w":-1,"s":"Im","b":4},{"k":0.05,"w":-0.9975,"s":"Im","b":4},{"k":0.1,"w":-0.9899,"s":"Im","b":4},{"k":0.15,"w":-0.977,"s":"Im","b":4},{"k":0.2,"w":-0.9583,"s":"Im","b":4},{"k":0.25,"w":-0.933,"s":"Im","b":4},{"k":0.3,"w":-0.9,"s":"Im","b":4},{"k":0.35,"w":-0.8571,"s":"Im","b":4},{"k":0.4,"w":-0.8,"s":"Im","b":4},{"k":0.43,"w":-0.7551,"s":"Im","b":4},{"k":0.45,"w":-0.7179,"s":"Im","b":4},{"k":0.47,"w":-0.6706,"s":"Im","b":4},{"k":0.48,"w":-0.64,"s":"Im","b":4},{"k":0.49,"w":-0.5995,"s":"Im","b":4},{"k":0.495,"w":-0.5705,"s":"Im","b":4},{"k":0.498,"w":-0.5447,"s":"Im","b":4},{"k":0.5,"w":-0.5,"s":"Im","b":4},{"k":1,"w":-0.5,"s":"Im","b":4}
 ]
}
}
